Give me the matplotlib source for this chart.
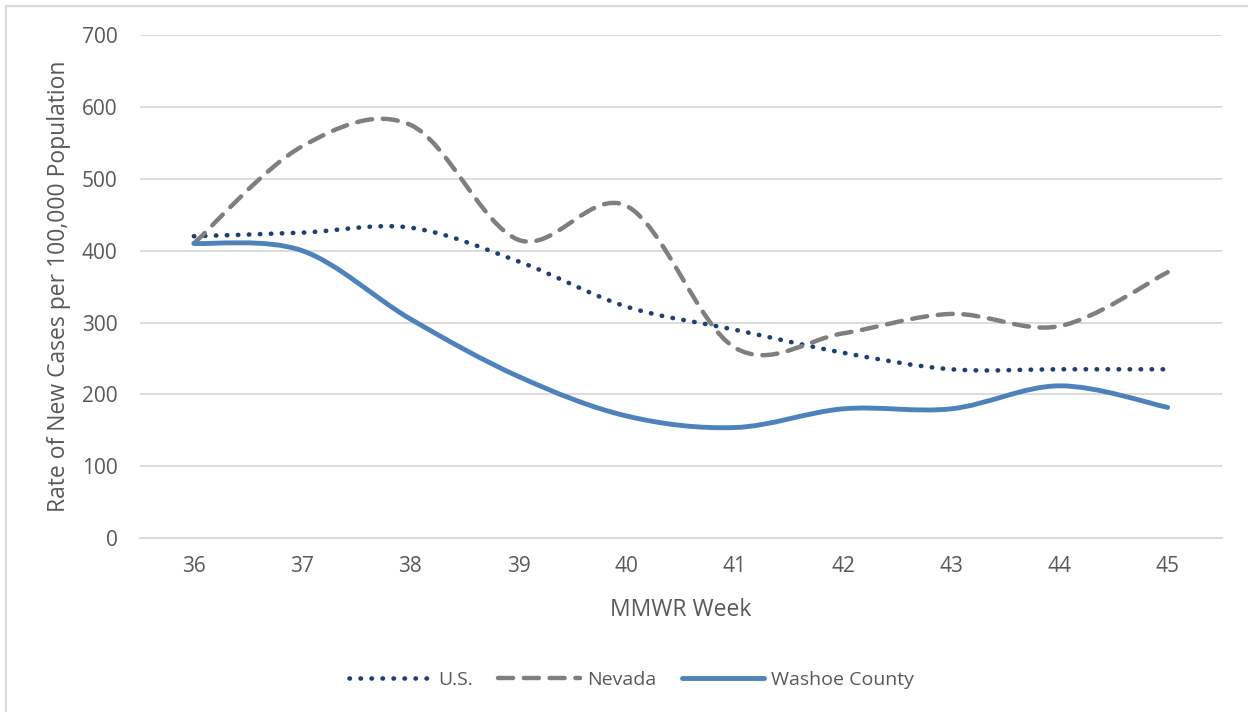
import numpy as np
import matplotlib.pyplot as plt
from matplotlib.path import Path
from matplotlib.patches import PathPatch, Rectangle
from matplotlib.lines import Line2D

plt.rcParams['font.family'] = ['Open Sans', 'DejaVu Sans']

# --- Data ---
weeks = [36, 37, 38, 39, 40, 41, 42, 43, 44, 45]
us = [420, 425, 432, 385, 322, 290, 258, 235, 235, 235]
nevada = [410, 545, 575, 415, 462, 265, 285, 312, 295, 370]
washoe = [410, 400, 305, 225, 170, 154, 180, 180, 212, 182]

series_names = ['U.S.', 'Nevada', 'Washoe County']
series_colors = ['#1F3F73', '#7F7F7F', '#4F81BD']
TEXT = '#595959'


def smooth_path(xs, ys, t=1/6):
    # Excel-like smoothed line: cubic Bezier segments through each point
    p = np.column_stack([xs, ys]).astype(float)
    n = len(p)
    verts = [p[0]]
    codes = [Path.MOVETO]
    for i in range(n - 1):
        p0 = p[i - 1] if i > 0 else p[i]
        p3 = p[i + 2] if i + 2 < n else p[i + 1]
        c1 = p[i] + (p[i + 1] - p0) * t
        c2 = p[i + 1] - (p3 - p[i]) * t
        verts += [c1, c2, p[i + 1]]
        codes += [Path.CURVE4] * 3
    return Path(verts, codes)


fig = plt.figure(figsize=(12.48, 7.12), dpi=100)
ax = fig.add_axes([0.112, 0.244, 0.867, 0.707])

styles = [
    dict(linestyle=(0, (0.1, 2.3)), linewidth=3.3, capstyle='round'),
    dict(linestyle=(0, (3.4, 2.4)), linewidth=3.2, capstyle='round'),
    dict(linestyle='-', linewidth=3.5, capstyle='round'),
]

for ys, col, st in zip([us, nevada, washoe], series_colors, styles):
    patch = PathPatch(smooth_path(weeks, ys), facecolor='none', edgecolor=col,
                      zorder=3, joinstyle='round', **st)
    ax.add_patch(patch)

ax.set_xlim(35.5, 45.5)
ax.set_ylim(0, 700)
ax.set_xticks(weeks)
ax.set_yticks(range(0, 701, 100))
ax.yaxis.grid(True, color='#D9D9D9', linewidth=1.3)
ax.set_axisbelow(True)
for s in ['top', 'right', 'left']:
    ax.spines[s].set_visible(False)
ax.spines['bottom'].set_color('#D9D9D9')
ax.spines['bottom'].set_linewidth(1.3)
ax.tick_params(length=0, labelsize=15, labelcolor=TEXT, pad=13)
ax.tick_params(axis='y', pad=16)
ax.set_xlabel('MMWR Week', fontsize=16.5, color=TEXT, labelpad=15)
ax.set_ylabel('Rate of New Cases per 100,000 Population', fontsize=16.5,
              color=TEXT, labelpad=8)

handles = [Line2D([], [], color=c, solid_capstyle='round',
                  dash_capstyle='round', **{k: v for k, v in st.items() if k != 'capstyle'})
           for c, st in zip(series_colors, styles)]
fig.legend(handles, series_names, loc='center', bbox_to_anchor=(0.506, 0.045),
           ncol=3, frameon=False, fontsize=14, labelcolor=TEXT,
           handlelength=4.2, columnspacing=1.3, handletextpad=0.4)

fig.patches.append(Rectangle((0.005, -0.1), 1.2, 1.092, transform=fig.transFigure,
                             fill=False, edgecolor='#D9D9D9', linewidth=1.5))

fig.savefig('out.png', dpi=100)
